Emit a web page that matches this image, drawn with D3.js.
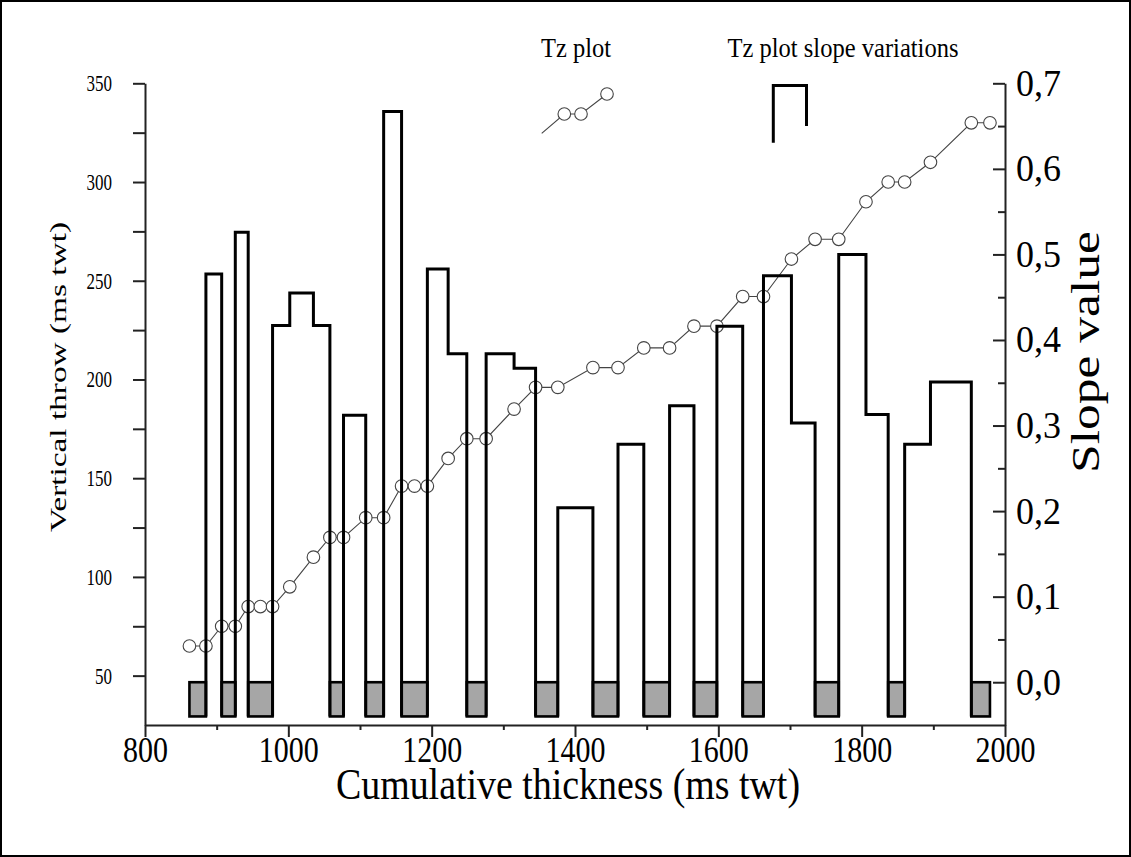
<!DOCTYPE html>
<html>
<head>
<meta charset="utf-8">
<script src="https://cdn.jsdelivr.net/npm/d3@7"></script>
<style>
  body { margin: 0; background: #fff; }
  svg text { font-family: "Liberation Serif", "Times New Roman", serif; fill: #000; }
</style>
</head>
<body>
<svg id="chart" width="1131" height="857"></svg>
<script>
// Tz plot: cumulative thickness (ms twt) against vertical throw (ms twt)
const tzThickness = [862, 885, 907, 926, 944, 961, 978, 1002, 1035, 1058, 1077, 1108, 1133, 1158, 1176, 1194,
  1223, 1249, 1276, 1315, 1345, 1376, 1425, 1460, 1496, 1532, 1566, 1598, 1634, 1663, 1702, 1735, 1768, 1806,
  1837, 1860, 1896, 1953, 1979];
const tzThrow = [65, 65, 75, 75, 85, 85, 85, 95, 110, 120, 120, 130, 130, 146, 146, 146,
  160, 170, 170, 185, 196, 196, 206, 206, 216, 216, 227, 227, 242, 242, 261, 271, 271, 290,
  300, 300, 310, 330, 330];
// Slope of the Tz plot over each interval between consecutive points (0 = flat interval)
const slopeValues = [0, 0.477, 0, 0.526, 0, 0, 0.417, 0.455, 0.417, 0, 0.312, 0, 0.667, 0, 0,
  0.483, 0.384, 0, 0.384, 0.367, 0, 0.204, 0, 0.278, 0, 0.323, 0, 0.416, 0, 0.475, 0.303, 0,
  0.500, 0.313, 0, 0.278, 0.351, 0];
const slopeBase = -0.04;

const xMajorTicks = [800, 1000, 1200, 1400, 1600, 1800, 2000];
const xMinorTicks = [900, 1100, 1300, 1500, 1700, 1900];
const throwTicks = [50, 75, 100, 125, 150, 175, 200, 225, 250, 275, 300, 325, 350];
const slopeMajorTicks = [0, 0.1, 0.2, 0.3, 0.4, 0.5, 0.6, 0.7];
const slopeMinorTicks = [0.05, 0.15, 0.25, 0.35, 0.45, 0.55, 0.65];

const titleX = "Cumulative thickness (ms twt)";
const titleLeft = "Vertical throw (ms twt)";
const titleRight = "Slope value";
const legendTz = "Tz plot";
const legendSlope = "Tz plot slope variations";

const svg = d3.select("#chart");
const W = 1131, H = 857;
const plot = { left: 145, right: 1005, top: 83.3, bottom: 725 };

svg.append("rect").attr("width", W).attr("height", H).attr("fill", "#fff");
svg.append("rect").attr("x", 1).attr("y", 1).attr("width", W - 2).attr("height", H - 2)
  .attr("fill", "none").attr("stroke", "#000").attr("stroke-width", 2);

const x = d3.scaleLinear().domain([800, 2000]).range([plot.left, plot.right]);
const yThrow = d3.scaleLinear().domain([25, 350]).range([plot.bottom, plot.top]);
const ySlope = d3.scaleLinear().domain([-0.05, 0.7]).range([plot.bottom, plot.top]);

// ---- Tz plot line and markers ----
const tzPoints = tzThickness.map((t, i) => ({ t, v: tzThrow[i] }));
const line = d3.line().x(d => x(d.t)).y(d => yThrow(d.v));
svg.append("path").datum(tzPoints).attr("d", line)
  .attr("fill", "none").attr("stroke", "#444").attr("stroke-width", 1.1);
svg.append("g").selectAll("circle").data(tzPoints).join("circle")
  .attr("cx", d => x(d.t)).attr("cy", d => yThrow(d.v)).attr("r", 6.3)
  .attr("fill", "#fff").attr("stroke", "#444").attr("stroke-width", 1.1);

// ---- slope columns: group consecutive intervals into flat / rising runs ----
const segments = slopeValues.map((v, i) => ({ x0: tzThickness[i], x1: tzThickness[i + 1], v }));
const runs = [];
segments.forEach(s => {
  const flat = s.v === 0;
  const last = runs[runs.length - 1];
  if (last && last.flat === flat) last.segs.push(s);
  else runs.push({ flat, segs: [s] });
});

const colLayer = svg.append("g");
runs.filter(r => r.flat).forEach(r => {
  const x0 = x(r.segs[0].x0), x1 = x(r.segs[r.segs.length - 1].x1);
  colLayer.append("rect")
    .attr("x", x0).attr("width", x1 - x0)
    .attr("y", ySlope(0)).attr("height", ySlope(slopeBase) - ySlope(0))
    .attr("fill", "#a6a6a6").attr("stroke", "#000").attr("stroke-width", 2.6);
});
runs.filter(r => !r.flat).forEach(r => {
  const p = d3.path();
  p.moveTo(x(r.segs[0].x0), ySlope(slopeBase));
  r.segs.forEach(s => {
    p.lineTo(x(s.x0), ySlope(s.v));
    p.lineTo(x(s.x1), ySlope(s.v));
  });
  p.lineTo(x(r.segs[r.segs.length - 1].x1), ySlope(slopeBase));
  colLayer.append("path").attr("d", p.toString())
    .attr("fill", "none").attr("stroke", "#000").attr("stroke-width", 3)
    .attr("stroke-linejoin", "miter");
});

// ---- axes ----
function styleAxis(g) {
  g.selectAll("path.domain").attr("stroke", "#222").attr("stroke-width", 2);
  g.selectAll(".tick line").attr("stroke", "#222").attr("stroke-width", 2);
}

// bottom
const gxMinor = svg.append("g").attr("transform", `translate(0,${plot.bottom})`)
  .call(d3.axisBottom(x).tickValues(xMinorTicks).tickSize(5).tickFormat(""));
gxMinor.select(".domain").remove();
styleAxis(gxMinor);
const gx = svg.append("g").attr("transform", `translate(0,${plot.bottom})`)
  .call(d3.axisBottom(x).tickValues(xMajorTicks).tickSize(12).tickSizeOuter(0).tickFormat(d3.format("d")));
styleAxis(gx);
gx.selectAll(".tick text")
  .attr("y", null).attr("dy", null)
  .attr("font-size", 30)
  .attr("transform", "translate(0,37) scale(1,1.2)");

// left
const gl = svg.append("g").attr("transform", `translate(${plot.left},0)`)
  .call(d3.axisLeft(yThrow).tickValues(throwTicks).tickSize(12).tickSizeOuter(0)
    .tickFormat(d => d % 50 === 0 ? d : ""));
styleAxis(gl);
gl.selectAll(".tick text")
  .attr("x", null).attr("dy", null)
  .attr("font-size", 17)
  .attr("transform", "translate(-33,7.5) scale(1,1.3)");

// right
const grMinor = svg.append("g").attr("transform", `translate(${plot.right},0)`)
  .call(d3.axisRight(ySlope).tickValues(slopeMinorTicks).tickSize(-7).tickFormat(""));
grMinor.select(".domain").remove();
styleAxis(grMinor);
const gr = svg.append("g").attr("transform", `translate(${plot.right},0)`)
  .call(d3.axisRight(ySlope).tickValues(slopeMajorTicks).tickSize(-12).tickSizeOuter(0)
    .tickFormat(d => d3.format(".1f")(d).replace(".", ",")));
styleAxis(gr);
gr.selectAll(".tick text")
  .attr("x", null).attr("dy", null)
  .attr("font-size", 36)
  .attr("transform", "translate(11,12) scale(1,1.05)");

// ---- titles ----
svg.append("text")
  .attr("transform", "translate(568,799) scale(1,1.15)")
  .attr("text-anchor", "middle").attr("font-size", 38)
  .attr("textLength", 464).attr("lengthAdjust", "spacingAndGlyphs")
  .text(titleX);

svg.append("text")
  .attr("transform", "translate(66,377) rotate(-90)")
  .attr("text-anchor", "middle").attr("font-size", 24)
  .attr("textLength", 310).attr("lengthAdjust", "spacingAndGlyphs")
  .text(titleLeft);

svg.append("text")
  .attr("transform", "translate(1099,352) rotate(-90)")
  .attr("text-anchor", "middle").attr("font-size", 41)
  .attr("textLength", 242).attr("lengthAdjust", "spacingAndGlyphs")
  .text(titleRight);

// ---- legend ----
svg.append("text")
  .attr("transform", "translate(576,57) scale(1,1.12)")
  .attr("text-anchor", "middle").attr("font-size", 24.5)
  .text(legendTz);
svg.append("text")
  .attr("transform", "translate(843,57) scale(1,1.12)")
  .attr("text-anchor", "middle").attr("font-size", 24.5)
  .attr("textLength", 231).attr("lengthAdjust", "spacingAndGlyphs")
  .text(legendSlope);

// Tz legend sample: short line with three markers
const legTz = [[541.7, 133.3], [564.3, 114], [581, 114], [607, 94]];
svg.append("path").attr("d", d3.line()(legTz))
  .attr("fill", "none").attr("stroke", "#444").attr("stroke-width", 1.1);
svg.append("g").selectAll("circle").data(legTz.slice(1)).join("circle")
  .attr("cx", d => d[0]).attr("cy", d => d[1]).attr("r", 6.3)
  .attr("fill", "#fff").attr("stroke", "#444").attr("stroke-width", 1.1);

// slope legend sample: one step outline
const legSlope = [[773.3, 142.7], [773.3, 85.5], [806.5, 85.5], [806.5, 126]];
svg.append("path").attr("d", d3.line()(legSlope))
  .attr("fill", "none").attr("stroke", "#000").attr("stroke-width", 3);
</script>
</body>
</html>
